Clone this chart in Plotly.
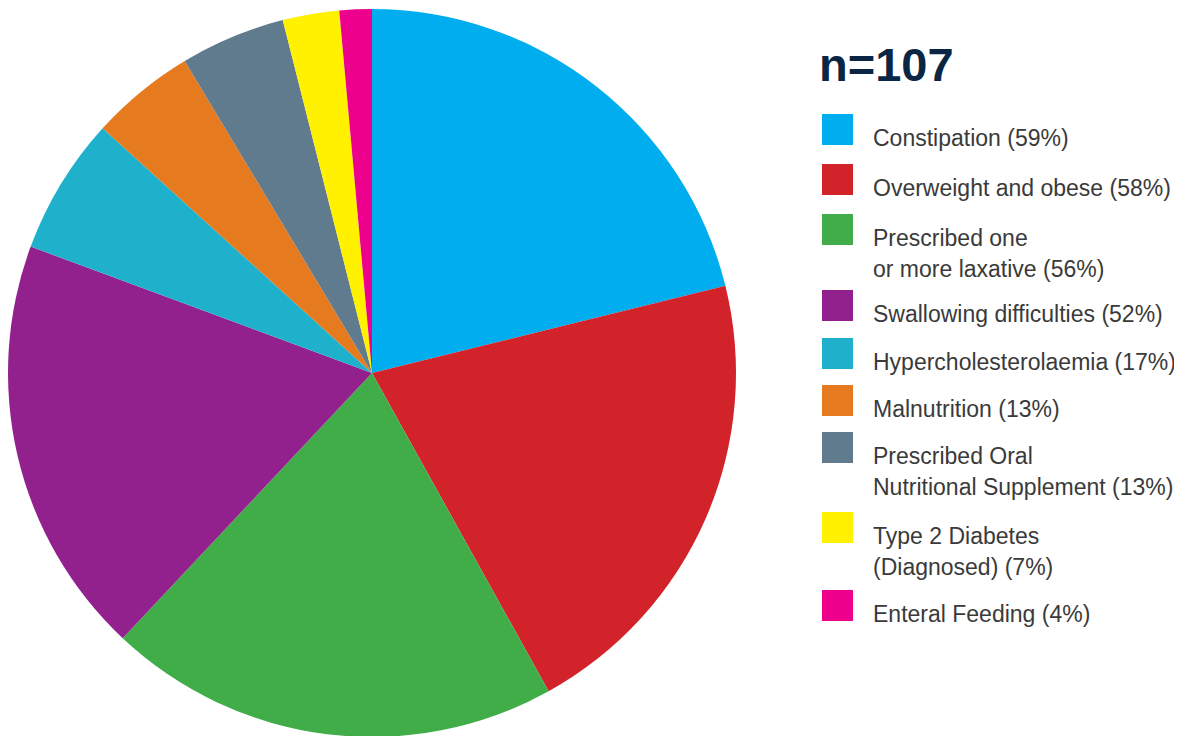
import plotly.graph_objects as go

labels = ["Constipation (59%)", "Overweight and obese (58%)",
          "Prescribed one<br>or more laxative (56%)", "Swallowing difficulties (52%)",
          "Hypercholesterolaemia (17%)", "Malnutrition (13%)",
          "Prescribed Oral<br>Nutritional Supplement (13%)",
          "Type 2 Diabetes<br>(Diagnosed) (7%)", "Enteral Feeding (4%)"]
values = [59, 58, 56, 52, 17, 13, 13, 7, 4]
colors = ["#00AEEF", "#D2232A", "#41AD49", "#93218D", "#1FB1CC",
          "#E57A1F", "#607B8E", "#FFF100", "#EC008C"]
title_text = "n=107"

W, H = 1182, 736
OFF = 8  # page body margin
def px(x): return (x - OFF) / W
def py(y): return 1 - (y - OFF) / H

fig = go.Figure(go.Pie(
    labels=[l.replace("<br>", " ") for l in labels], values=values,
    marker=dict(colors=colors, line=dict(width=0)),
    sort=False, direction="clockwise", rotation=0,
    textinfo="none", hoverinfo="label+value", showlegend=False,
    domain=dict(x=[px(8), px(736)], y=[py(737), py(9)]),
))

square_tops = [114, 164, 214, 290, 338, 385, 432, 512, 590]
sq = 31
shapes = []
annotations = [dict(text="<b>" + title_text + "</b>", x=px(817), y=py(64), xref="paper", yref="paper",
                    xanchor="left", yanchor="middle", showarrow=False,
                    font=dict(family="Liberation Sans, Arial", size=47, color="#0B2545"))]
for lab, col, top in zip(labels, colors, square_tops):
    shapes.append(dict(type="rect", xref="paper", yref="paper",
                       x0=px(822), x1=px(822 + sq), y0=py(top), y1=py(top + sq),
                       fillcolor=col, line=dict(width=0)))
    baseline = top + sq + 1
    for i, line in enumerate(lab.split("<br>")):
        annotations.append(dict(text=line, x=px(871), y=py(baseline + 31 * i - 8),
                                xref="paper", yref="paper", xanchor="left", yanchor="middle",
                                showarrow=False,
                                font=dict(family="Liberation Sans, Arial", size=23, color="#3A3A3A")))

fig.update_layout(width=W, height=H, margin=dict(l=0, r=0, t=0, b=0),
                  paper_bgcolor="white", plot_bgcolor="white",
                  shapes=shapes, annotations=annotations)
fig.write_html("out.html")
